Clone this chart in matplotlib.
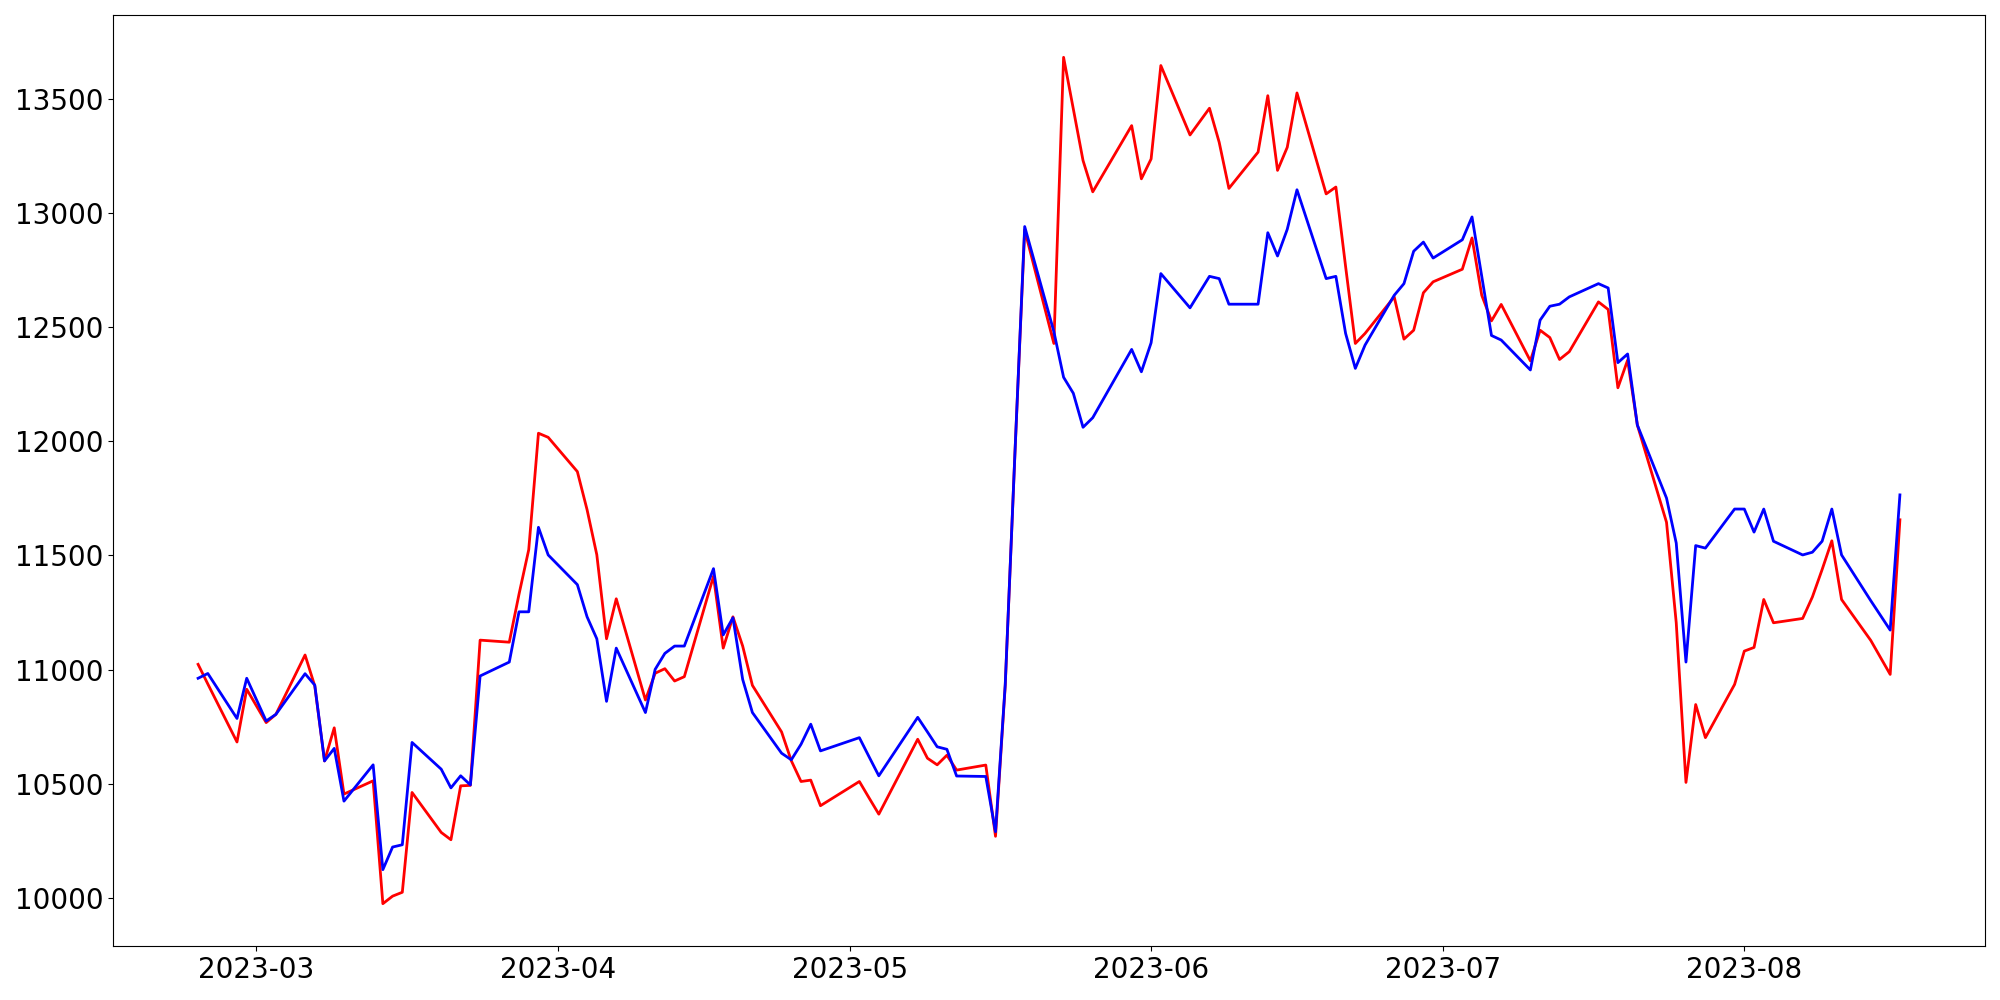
import numpy as np
import pandas as pd
import matplotlib
matplotlib.use('Agg')
import matplotlib.pyplot as plt

plt.rcParams["font.size"] = 20

# trading days (KRX calendar, vertices)
dates = [
    '2023-02-23', '2023-02-24', '2023-02-27', '2023-02-28', '2023-03-02', '2023-03-03',
    '2023-03-06', '2023-03-07', '2023-03-08', '2023-03-09', '2023-03-10',
    '2023-03-13', '2023-03-14', '2023-03-15', '2023-03-16', '2023-03-17',
    '2023-03-20', '2023-03-21', '2023-03-22', '2023-03-23', '2023-03-24',
    '2023-03-27', '2023-03-28', '2023-03-29', '2023-03-30', '2023-03-31',
    '2023-04-03', '2023-04-04', '2023-04-05', '2023-04-06', '2023-04-07',
    '2023-04-10', '2023-04-11', '2023-04-12', '2023-04-13', '2023-04-14',
    '2023-04-17', '2023-04-18', '2023-04-19', '2023-04-20', '2023-04-21',
    '2023-04-24', '2023-04-25', '2023-04-26', '2023-04-27', '2023-04-28',
    '2023-05-02', '2023-05-03', '2023-05-04',
    '2023-05-08', '2023-05-09', '2023-05-10', '2023-05-11', '2023-05-12',
    '2023-05-15', '2023-05-16', '2023-05-17', '2023-05-18', '2023-05-19',
    '2023-05-22', '2023-05-23', '2023-05-24', '2023-05-25', '2023-05-26',
    '2023-05-30', '2023-05-31', '2023-06-01', '2023-06-02',
    '2023-06-05', '2023-06-07', '2023-06-08', '2023-06-09',
    '2023-06-12', '2023-06-13', '2023-06-14', '2023-06-15', '2023-06-16',
    '2023-06-19', '2023-06-20', '2023-06-21', '2023-06-22', '2023-06-23',
    '2023-06-26', '2023-06-27', '2023-06-28', '2023-06-29', '2023-06-30',
    '2023-07-03', '2023-07-04', '2023-07-05', '2023-07-06', '2023-07-07',
    '2023-07-10', '2023-07-11', '2023-07-12', '2023-07-13', '2023-07-14',
    '2023-07-17', '2023-07-18', '2023-07-19', '2023-07-20', '2023-07-21',
    '2023-07-24', '2023-07-25', '2023-07-26', '2023-07-27', '2023-07-28',
    '2023-07-31', '2023-08-01', '2023-08-02', '2023-08-03', '2023-08-04',
    '2023-08-07', '2023-08-08', '2023-08-09', '2023-08-10', '2023-08-11',
    '2023-08-14', '2023-08-16', '2023-08-17',
]

red = [
    11023, 10937, 10683, 10914, 10768, 10804,
    11064, 10928, 10600, 10745, 10455,
    10513, 9975, 10008, 10025, 10462,
    10287, 10255, 10491, 10493, 11129,
    11120, 11330, 11525, 12035, 12017,
    11867, 11700, 11503, 11135, 11310,
    10867, 10984, 11004, 10950, 10969,
    11409, 11094, 11231, 11103, 10931,
    10727, 10601, 10510, 10516, 10404,
    10510, 10438, 10367,
    10695, 10612, 10583, 10625, 10560,
    10582, 10270, 10930, 11950, 12925,
    12428, 13681, 13455, 13229, 13092,
    13382, 13149, 13236, 13645,
    13341, 13458, 13309, 13107,
    13266, 13513, 13186, 13287, 13525,
    13083, 13113, 12765, 12428, 12472,
    12632, 12447, 12486, 12650, 12698,
    12753, 12890, 12639, 12527, 12599,
    12352, 12486, 12454, 12358, 12392,
    12610, 12577, 12234, 12355, 12071,
    11645, 11205, 10506, 10847, 10702,
    10935, 11081, 11097, 11307, 11205,
    11224, 11318, 11438, 11564, 11307,
    11128, 10979, 11656,
]

blue = [
    10962, 10983, 10786, 10962, 10775, 10804,
    10982, 10932, 10600, 10655, 10424,
    10583, 10124, 10223, 10233, 10681,
    10564, 10482, 10535, 10495, 10972,
    11033, 11253, 11253, 11623, 11502,
    11372, 11231, 11135, 10861, 11094,
    10812, 11001, 11071, 11103, 11103,
    11442, 11152, 11227, 10957, 10812,
    10634, 10605, 10673, 10761, 10644,
    10702, 10618, 10535,
    10791, 10727, 10662, 10651, 10534,
    10532, 10290, 10935, 11950, 12940,
    12480, 12280, 12210, 12061, 12103,
    12402, 12304, 12431, 12734,
    12584, 12722, 12712, 12600,
    12600, 12913, 12811, 12928, 13101,
    12712, 12722, 12472, 12319, 12421,
    12639, 12690, 12832, 12872, 12802,
    12882, 12982, 12722, 12463, 12443,
    12312, 12530, 12591, 12600, 12632,
    12690, 12671, 12344, 12382, 12071,
    11751, 11554, 11033, 11543, 11532,
    11703, 11703, 11602, 11703, 11562,
    11502, 11514, 11562, 11703, 11502,
    11302, 11173, 11765,
]

x = pd.to_datetime(dates)

fig, ax = plt.subplots(figsize=(20, 10), dpi=100)
ax.plot(x, red, color='red', linewidth=2)
ax.plot(x, blue, color='blue', linewidth=2)

fig.subplots_adjust(left=0.0565, right=0.9925, top=0.985, bottom=0.054)
fig.savefig('out.png', dpi=100)
